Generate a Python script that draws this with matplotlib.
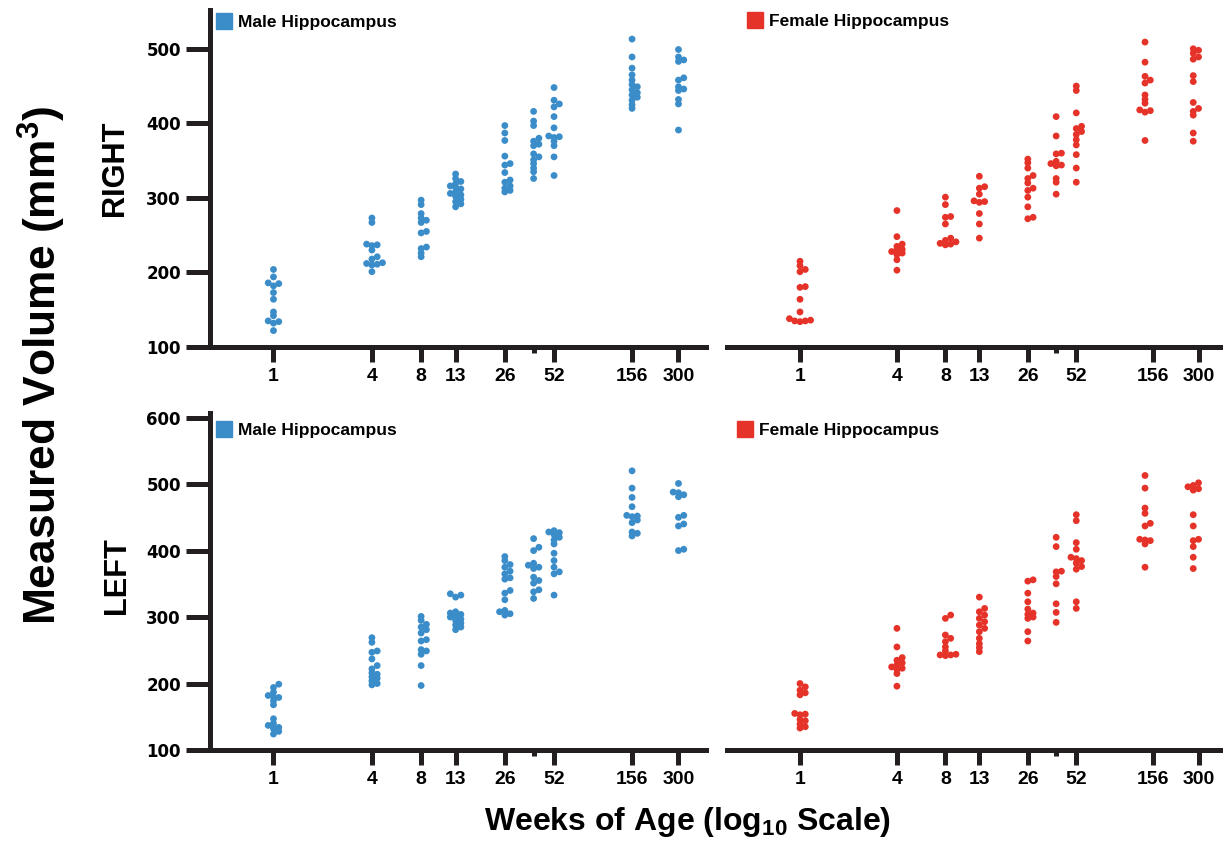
import numpy as np
import matplotlib
matplotlib.use("Agg")
import matplotlib.pyplot as plt
from matplotlib import font_manager
from matplotlib.lines import Line2D

# hippocampal volume (mm^3) by age group
ages_m = [1, 4, 8, 13, 26, 39, 52, 156, 300]
ages_f = [1, 4, 8, 13, 26, 39, 52, 139, 277]
tick_weeks = [1, 4, 8, 13, 26, 52, 156, 300]

male_right = [
    [204, 194, 186, 185, 182, 173, 164, 147, 142, 135, 134, 132, 122],
    [273, 267, 238, 237, 236, 230, 221, 218, 213, 212, 211, 210, 201],
    [297, 291, 279, 273, 270, 267, 255, 253, 234, 232, 226, 221],
    [332, 326, 322, 319, 316, 314, 312, 308, 306, 304, 302, 298, 295, 292, 288],
    [397, 387, 377, 356, 346, 344, 334, 324, 321, 316, 313, 310, 308],
    [416, 403, 397, 380, 376, 372, 370, 359, 355, 351, 346, 340, 335, 326],
    [448, 431, 426, 422, 409, 394, 383, 382, 381, 376, 370, 355, 330],
    [513, 489, 474, 465, 458, 452, 449, 445, 441, 438, 435, 431, 425, 420],
    [499, 489, 485, 483, 461, 458, 449, 446, 444, 432, 426, 391],
]
female_right = [
    [215, 209, 204, 201, 181, 180, 164, 147, 138, 136, 135, 135, 134],
    [283, 248, 238, 235, 231, 230, 228, 226, 224, 217, 203],
    [301, 291, 275, 274, 265, 246, 243, 241, 239, 238, 237],
    [329, 315, 313, 305, 296, 295, 294, 279, 265, 246],
    [352, 347, 340, 330, 326, 320, 313, 310, 301, 288, 274, 272],
    [409, 383, 360, 359, 349, 346, 344, 343, 326, 321, 305],
    [450, 444, 414, 396, 393, 389, 385, 378, 371, 358, 340, 321],
    [509, 482, 463, 458, 454, 438, 432, 427, 418, 417, 415, 377],
    [500, 498, 494, 489, 486, 464, 456, 428, 420, 416, 411, 387, 376],
]
male_left = [
    [199, 194, 187, 182, 180, 179, 174, 168, 147, 140, 137, 134, 132, 128, 124],
    [269, 262, 249, 247, 237, 227, 222, 216, 214, 210, 208, 204, 200, 198],
    [301, 295, 289, 285, 281, 276, 266, 264, 251, 249, 244, 227, 197],
    [335, 333, 330, 308, 306, 304, 302, 300, 297, 295, 291, 288, 285, 281],
    [391, 385, 379, 375, 369, 365, 359, 357, 340, 336, 326, 310, 308, 305, 303],
    [418, 405, 400, 381, 378, 375, 373, 360, 355, 351, 341, 338, 328],
    [430, 428, 427, 424, 420, 416, 410, 396, 385, 375, 368, 365, 333],
    [520, 494, 480, 466, 453, 452, 451, 446, 442, 428, 426, 422],
    [501, 488, 487, 484, 481, 453, 450, 440, 437, 402, 400],
]
female_left = [
    [200, 195, 190, 186, 183, 155, 154, 153, 146, 144, 139, 135, 133],
    [283, 255, 239, 235, 231, 228, 225, 223, 221, 215, 196],
    [303, 298, 273, 268, 263, 255, 249, 244, 243, 243, 242],
    [330, 313, 308, 303, 298, 293, 288, 283, 278, 268, 260, 254, 248],
    [356, 354, 336, 323, 312, 306, 304, 300, 298, 278, 264],
    [420, 406, 369, 368, 361, 350, 320, 307, 292],
    [454, 445, 412, 402, 390, 388, 385, 381, 376, 372, 323, 313],
    [513, 494, 464, 456, 441, 437, 417, 416, 415, 410, 375],
    [502, 498, 496, 493, 491, 454, 437, 417, 415, 406, 390, 373],
]

BLUE = "#3b8dc9"
RED = "#e63329"
INK = "#231f20"

names = {f.name for f in font_manager.fontManager.ttflist}
has_narrow = "Liberation Sans Narrow" in names
NARROW = "Liberation Sans Narrow" if has_narrow else "Liberation Sans"
nscale = 1.0 if has_narrow else 0.82

plt.rcParams["mathtext.fontset"] = "custom"
plt.rcParams["mathtext.rm"] = NARROW + ":bold"
plt.rcParams["mathtext.it"] = NARROW + ":bold"
plt.rcParams["mathtext.bf"] = NARROW + ":bold"
plt.rcParams["mathtext.default"] = "rm"

W, H = 1223, 841
fig = plt.figure(figsize=(W / 100, H / 100), dpi=100)


def box(left, top, right, bottom):
    return [left / W, 1 - bottom / H, (right - left) / W, (bottom - top) / H]


def swarm(ax, x0, vals, d=6.6):
    # spread overlapping dots sideways, done in pixel space
    pts = ax.transData.transform(np.column_stack([np.full(len(vals), x0, float), vals]))
    placed = []
    out = np.zeros_like(pts)
    for i in np.argsort(vals):
        px, py = pts[i]
        for k in [0, 1, -1, 2, -2, 3, -3]:
            cx = px + k * d * 0.8
            if all((cx - qx) ** 2 + (py - qy) ** 2 >= (0.55 * d) ** 2 for qx, qy in placed):
                break
        placed.append((cx, py))
        out[i] = (cx, py)
    return ax.transData.inverted().transform(out)


panels = [
    (box(210, 10, 706, 347), (0.409, 442), (100, 552), ages_m, male_right, BLUE, "Male Hippocampus", True, (-0.004, 1.005)),
    (box(727, 10, 1223, 347), (0.352, 424), (100, 552), ages_f, female_right, RED, "Female Hippocampus", False, (0.024, 1.01)),
    (box(210, 413, 706, 750), (0.409, 442), (100, 607), ages_m, male_left, BLUE, "Male Hippocampus", True, (-0.004, 0.99)),
    (box(727, 413, 1223, 750), (0.352, 424), (100, 607), ages_f, female_left, RED, "Female Hippocampus", False, (0.004, 0.99)),
]

for rect, xl, yl, ages, groups, col, lab, show_y, lpos in panels:
    ax = fig.add_axes(rect)
    ax.set_xscale("log")
    ax.set_xlim(*xl)
    ax.set_ylim(*yl)
    for s in ["top", "right"]:
        ax.spines[s].set_visible(False)
    ax.spines["bottom"].set_linewidth(3.6)
    ax.spines["bottom"].set_color(INK)
    ax.spines["left"].set_linewidth(3.6)
    ax.spines["left"].set_color(INK)
    ax.spines["left"].set_visible(show_y)

    ax.set_xticks(tick_weeks)
    ax.set_xticklabels([str(t) for t in tick_weeks])
    ax.set_xticks([39], minor=True)
    ax.tick_params(axis="x", which="major", length=11, width=3.6, color=INK, pad=4,
                   labelsize=17 * nscale, labelcolor="black")
    ax.tick_params(axis="x", which="minor", length=4.5, width=3.6, color=INK)
    for t in ax.get_xticklabels():
        t.set_fontfamily(NARROW)
        t.set_fontweight("bold")

    if show_y:
        yt = list(range(100, int(yl[1]) + 1, 100))
        ax.set_yticks(yt)
        ax.tick_params(axis="y", length=17, width=3.6, color=INK, pad=4, labelsize=12)
        for t in ax.get_yticklabels():
            t.set_fontfamily("DejaVu Sans")
            t.set_fontweight("bold")
    else:
        ax.set_yticks([])

    for a, v in zip(ages, groups):
        xy = swarm(ax, a, v)
        ax.scatter(xy[:, 0], xy[:, 1], s=24, color=col, edgecolors="none", zorder=3, clip_on=False)

    h = Line2D([], [], marker="s", ls="", color=col, markersize=12, label=lab)
    ax.legend(handles=[h], loc="upper left", bbox_to_anchor=lpos, frameon=False,
              handletextpad=0.35, borderaxespad=0, handlelength=1.0,
              prop={"family": "Liberation Sans", "weight": "bold", "size": 12.5})

fig.text(0.034, 0.566, "Measured Volume (mm$^3$)", rotation=90, ha="center", va="center",
         fontsize=39 * nscale, fontweight="bold", family=NARROW)
fig.text(0.094, 0.800, "RIGHT", rotation=90, ha="center", va="center",
         fontsize=27 * nscale, fontweight="bold", family=NARROW)
fig.text(0.096, 0.316, "LEFT", rotation=90, ha="center", va="center",
         fontsize=27 * nscale, fontweight="bold", family=NARROW)
fig.text(0.5625, 0.022, "Weeks of Age (log$_{10}$ Scale)", ha="center", va="center",
         fontsize=23, fontweight="bold", family=NARROW)

fig.savefig("out.png", dpi=100, facecolor="white")
